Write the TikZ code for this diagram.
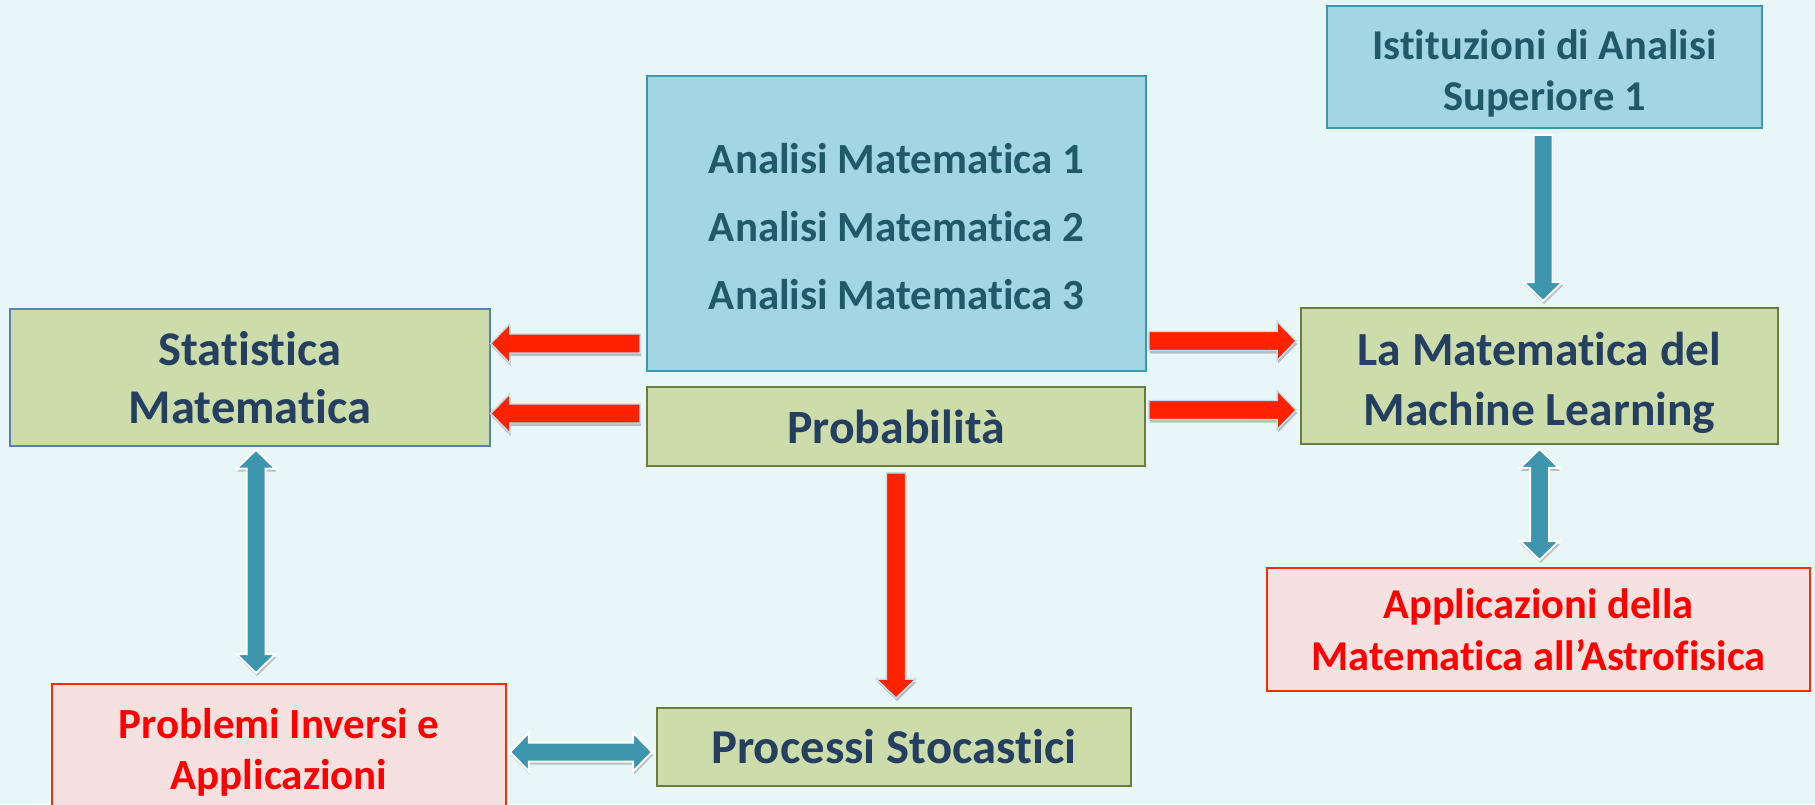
\documentclass[tikz,border=0pt]{standalone}
\usepackage{fontspec}
\setmainfont[Ligatures=NoCommon]{Carlito}
\usetikzlibrary{calc,shadows}
\definecolor{bg}{HTML}{E9F6F8}
\definecolor{bluefill}{HTML}{A3D6E4}
\definecolor{blueline}{HTML}{3F97AE}
\definecolor{tealtext}{HTML}{215968}
\definecolor{greenfill}{HTML}{CDDCAB}
\definecolor{greenline}{HTML}{6B7D3E}
\definecolor{statline}{HTML}{5A80B5}
\definecolor{navytext}{HTML}{243F60}
\definecolor{pinkfill}{HTML}{F5E2E0}
\definecolor{redline}{HTML}{FF2B00}
\definecolor{redtext}{HTML}{FF0000}
\definecolor{arrred}{HTML}{FF2200}
\definecolor{arrredline}{HTML}{BCDFE9}
\definecolor{arrteal}{HTML}{3D96AE}
\tikzset{
  box/.style={rectangle, inner sep=0pt, align=center, line width=1.8pt},
  bluebox/.style={box, fill=bluefill, draw=blueline, text=tealtext},
  greenbox/.style={box, fill=greenfill, draw=greenline, text=navytext},
  pinkbox/.style={box, fill=pinkfill, draw=redline, text=redtext},
  redarr/.style={fill=arrred, draw=arrredline, line width=1.4pt, line join=miter,
    drop shadow={shadow xshift=1pt, shadow yshift=-3pt, opacity=0.22, fill=black}},
  tealarr/.style={fill=arrteal, draw=white, line width=2pt, line join=miter,
    drop shadow={shadow xshift=1pt, shadow yshift=-3pt, opacity=0.22, fill=black}},
}
% single block arrow: style, start, end
\newcommand\blockone[3]{%
  \coordinate (hb) at ($(#3)!19pt!(#2)$);
  \path[#1] ($(#2)!9.5pt!90:(#3)$) -- ($(hb)!9.5pt!90:(#3)$) -- ($(hb)!19.5pt!90:(#3)$)
    -- (#3) -- ($(hb)!19.5pt!-90:(#3)$) -- ($(hb)!9.5pt!-90:(#3)$) -- ($(#2)!9.5pt!-90:(#3)$) -- cycle;
}
% double block arrow: style, start, end
\newcommand\blocktwo[3]{%
  \coordinate (hba) at ($(#2)!19pt!(#3)$);
  \coordinate (hbb) at ($(#3)!19pt!(#2)$);
  \path[#1] (#2) -- ($(hba)!19.5pt!90:(#3)$) -- ($(hba)!9.5pt!90:(#3)$) -- ($(hbb)!9.5pt!90:(#3)$)
    -- ($(hbb)!19.5pt!90:(#3)$) -- (#3) -- ($(hbb)!19.5pt!-90:(#3)$) -- ($(hbb)!9.5pt!-90:(#3)$)
    -- ($(hba)!9.5pt!-90:(#3)$) -- ($(hba)!19.5pt!-90:(#3)$) -- cycle;
}
\begin{document}
\begin{tikzpicture}[x=1pt,y=-1pt]
\fill[bg] (0,0) rectangle (1815,804);
\useasboundingbox (0,0) rectangle (1815,804);

\node[bluebox, minimum width=435pt, minimum height=122pt, font=\fontsize{42.5}{51}\selectfont\bfseries]
  (ist) at (1544.5,67) {\rule{0pt}{42pt}Istituzioni di Analisi\\Superiore 1};
\node[bluebox, minimum width=499pt, minimum height=295pt, font=\fontsize{43}{68}\selectfont\bfseries]
  (ana) at (896.5,223.5) {\rule{0pt}{37pt}Analisi Matematica 1\\Analisi Matematica 2\\Analisi Matematica 3};
\node[greenbox, minimum width=498pt, minimum height=79pt, font=\fontsize{47.8}{56}\selectfont\bfseries]
  (prob) at (896,426.5) {Probabilità};
\node[greenbox, draw=statline, line width=1.4pt, minimum width=480pt, minimum height=137pt, font=\fontsize{48.5}{58}\selectfont\bfseries]
  (stat) at (250,377.5) {Statistica\\Matematica};
\node[greenbox, minimum width=477pt, minimum height=136pt, font=\fontsize{47.5}{60}\selectfont\bfseries]
  (ml) at (1539.5,376) {\rule{0pt}{47pt}La Matematica del\\Machine Learning};
\node[pinkbox, minimum width=543pt, minimum height=123pt, font=\fontsize{42.5}{52}\selectfont\bfseries]
  (astro) at (1538.5,629.5) {Applicazioni della\\Matematica all’Astrofisica};
\node[pinkbox, minimum width=454pt, minimum height=136pt, font=\fontsize{43}{51}\selectfont\bfseries]
  (prinv) at (279,752) {Problemi Inversi e\\Applicazioni};
\node[greenbox, minimum width=474pt, minimum height=78pt, font=\fontsize{48.7}{56}\selectfont\bfseries]
  (proc) at (894,747) {Processi Stocastici};

% red arrows
\coordinate (l1s) at ($(ana.west |- stat.center)+(-6,-34)$);
\coordinate (l1e) at ($(stat.east)+(0,-34)$);
\coordinate (l2s) at ($(prob.west |- stat.center)+(-6,36)$);
\coordinate (l2e) at ($(stat.east)+(0,36)$);
\coordinate (r1s) at ($(ana.east |- ml.west)+(2,-35)$);
\coordinate (r1e) at ($(ml.west)+(-4,-35)$);
\coordinate (r2s) at ($(prob.east |- ml.west)+(3,34)$);
\coordinate (r2e) at ($(ml.west)+(-4,34)$);
\coordinate (ds) at ($(prob.south)+(0,6)$);
\coordinate (de) at ($(prob.south |- proc.north)+(0,-9)$);
\blockone{redarr}{l1s}{l1e}
\blockone{redarr}{l2s}{l2e}
\blockone{redarr}{r1s}{r1e}
\blockone{redarr}{r2s}{r2e}
\blockone{redarr}{ds}{de}

% teal arrows
\coordinate (is) at ($(ist.south)+(-1.5,6)$);
\coordinate (ie) at ($(ist.south |- ml.north)+(-1.5,-6)$);
\blockone{tealarr}{is}{ie}
\coordinate (sps) at ($(stat.south)+(6,3)$);
\coordinate (spe) at ($(stat.south |- prinv.north)+(6,-10)$);
\blocktwo{tealarr}{sps}{spe}
\coordinate (mas) at ($(ml.south)+(0,4)$);
\coordinate (mae) at ($(ml.south |- astro.north)+(0,-7)$);
\blocktwo{tealarr}{mas}{mae}
\coordinate (pps) at ($(prinv.east |- proc.center)+(3,5)$);
\coordinate (ppe) at ($(proc.west)+(-4,5)$);
\blocktwo{tealarr}{pps}{ppe}
\end{tikzpicture}
\end{document}
